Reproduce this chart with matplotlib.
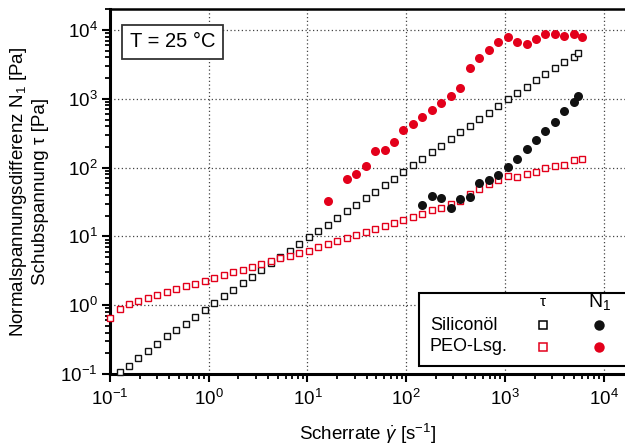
import numpy as np
import matplotlib
matplotlib.use("Agg")
import matplotlib.pyplot as plt
from matplotlib.lines import Line2D
from matplotlib.patches import Rectangle

plt.rcParams['font.family'] = ['Liberation Sans', 'DejaVu Sans']
plt.rcParams['mathtext.fontset'] = 'custom'
plt.rcParams['mathtext.rm'] = 'Liberation Sans'
plt.rcParams['mathtext.it'] = 'Liberation Sans:italic'
plt.rcParams['mathtext.bf'] = 'Liberation Sans:bold'

# shear rate grid [1/s]
shear_rate = [0.100, 0.125, 0.156, 0.194, 0.242, 0.302, 0.376, 0.469, 0.585, 0.730,
              0.910, 1.14, 1.42, 1.76, 2.20, 2.74, 3.42, 4.27, 5.32, 6.64,
              8.28, 10.3, 12.9, 16.1, 20.0, 25.0, 31.1, 38.8, 48.4, 60.4,
              75.3, 93.9, 117, 146, 182, 227, 283, 353, 441, 550,
              685, 855, 1066, 1330, 1658, 2068, 2578, 3215, 4009, 5000]

# Siliconoel: shear stress tau
sil_tau_x = shear_rate[1:] + [5520]
sil_tau = [0.106, 0.132, 0.173, 0.214, 0.273, 0.353, 0.432, 0.538, 0.673,
           0.861, 1.07, 1.35, 1.66, 2.08, 2.57, 3.25, 4.06, 4.97, 6.2,
           7.76, 9.7, 12.0, 14.8, 18.7, 23.4, 28.9, 36.2, 44.7, 55.8,
           69.0, 86.3, 108, 133, 167, 208, 258, 326, 406, 508,
           628, 778, 984, 1214, 1500, 1876, 2316, 2833, 3426, 4093, 4581]

# PEO-Lsg.: shear stress tau
peo_tau_x = shear_rate + [6050]
peo_tau = [0.658, 0.889, 1.04, 1.15, 1.28, 1.42, 1.56, 1.72, 1.88, 2.05,
           2.27, 2.48, 2.75, 3.04, 3.28, 3.63, 4.01, 4.35, 4.85, 5.19,
           5.68, 6.19, 6.93, 7.67, 8.57, 9.48, 10.4, 11.5, 12.7, 14.2,
           15.7, 17.3, 19.4, 21.4, 23.9, 26.1, 29.2, 32.4, 41.0, 49.6,
           56.8, 65.3, 76.3, 72.3, 80.0, 86.3, 98.6, 105, 110, 128, 135]

# Siliconoel: first normal stress difference N1
sil_n1_x = shear_rate[33:] + [5520]
sil_n1 = [28.6, 38.7, 36.2, 25.9, 35.3, 37.0, 59.1, 65.3, 78.9, 103,
          133, 185, 255, 340, 464, 657, 898, 1084]

# PEO-Lsg.: first normal stress difference N1
peo_n1_x = [shear_rate[23]] + shear_rate[25:] + [6050]
peo_n1 = [33.0, 68.3, 81.5, 107, 173, 178, 233, 348, 426, 543,
          687, 877, 1086, 1420, 2831, 3958, 5120, 6690, 8000, 6690,
          6190, 7320, 8660, 8660, 8260, 8660, 7910]

tick_vals = [0.1, 1, 10, 100, 1000, 10000]
tick_labels = [r'$\mathregular{10^{-1}}$', r'$\mathregular{10^{0}}$', r'$\mathregular{10^{1}}$',
               r'$\mathregular{10^{2}}$', r'$\mathregular{10^{3}}$', r'$\mathregular{10^{4}}$']

RED = '#e3001b'

fig = plt.figure(figsize=(6.25, 4.47), dpi=100)
ax = fig.add_axes([0.176, 0.1633, 0.824, 0.8166])
ax.set_xscale('log')
ax.set_yscale('log')
ax.set_xlim(0.1, 16500)
ax.set_ylim(0.1, 20200)

sq = dict(marker='s', linestyle='none', markersize=4.8, markerfacecolor='white',
          markeredgewidth=1.0, clip_on=False, zorder=3)
ci = dict(marker='o', linestyle='none', markersize=6.5, markeredgewidth=0, zorder=4)

ax.plot(sil_tau_x, sil_tau, markeredgecolor='#111111', **sq)
ax.plot(peo_tau_x, peo_tau, markeredgecolor=RED, **sq)
ax.plot(sil_n1_x, sil_n1, color='#111111', **ci)
ax.plot(peo_n1_x, peo_n1, color=RED, **ci)

# grid
ax.grid(True, which='major', linestyle=(0, (1, 2)), color='#444444', linewidth=0.9)
ax.set_axisbelow(True)

# spines
ax.spines['right'].set_visible(False)
ax.spines['left'].set_linewidth(2.2)
ax.spines['bottom'].set_linewidth(2.2)
ax.spines['top'].set_linewidth(1.8)

ax.tick_params(which='major', direction='out', length=6, width=1.5, labelsize=13.5)
ax.tick_params(axis='x', which='major', pad=5)
ax.tick_params(axis='y', which='major', pad=3)
ax.tick_params(which='minor', direction='out', length=3.5, width=1.3)
ax.tick_params(axis='both', top=False, right=False)

ax.set_xticks(tick_vals)
ax.set_xticklabels(tick_labels)
ax.set_yticks(tick_vals)
ax.set_yticklabels(tick_labels)

ax.set_xlabel(r'Scherrate $\dot{\gamma}$ [s$^{-1}$]', fontsize=13.5, labelpad=9)
ax.set_ylabel('Normalspannungsdifferenz N$_1$ [Pa]\nSchubspannung \u03c4 [Pa]',
              fontsize=13.5, labelpad=8, linespacing=1.2)

# temperature box
ax.text(0.122, 0.910, 'T = 25 \u00b0C', transform=ax.transAxes, fontsize=14.5,
        ha='center', va='center',
        bbox=dict(boxstyle='square,pad=0.38', facecolor='white', edgecolor='#333333', linewidth=1.3))

# custom legend
ax.add_patch(Rectangle((0.600, 0.022), 0.45, 0.200, transform=ax.transAxes,
                       facecolor='white', edgecolor='black', linewidth=1.5, zorder=5, clip_on=False))
ax.text(0.621, 0.134, 'Siliconöl', transform=ax.transAxes, fontsize=13, va='center', ha='left', zorder=6)
ax.text(0.621, 0.074, 'PEO-Lsg.', transform=ax.transAxes, fontsize=13, va='center', ha='left', zorder=6)
ax.text(0.841, 0.197, '\u03c4', transform=ax.transAxes, fontsize=11, va='center', ha='center', zorder=6)
ax.text(0.950, 0.197, 'N$_1$', transform=ax.transAxes, fontsize=14, va='center', ha='center', zorder=6)
ax.add_line(Line2D([0.841], [0.134], transform=ax.transAxes, marker='s', markersize=6,
                   markerfacecolor='white', markeredgecolor='black', markeredgewidth=1.1, zorder=6))
ax.add_line(Line2D([0.841], [0.074], transform=ax.transAxes, marker='s', markersize=6,
                   markerfacecolor='white', markeredgecolor=RED, markeredgewidth=1.1, zorder=6))
ax.add_line(Line2D([0.950], [0.134], transform=ax.transAxes, marker='o', markersize=7.5,
                   color='#111111', markeredgewidth=0, zorder=6))
ax.add_line(Line2D([0.950], [0.074], transform=ax.transAxes, marker='o', markersize=7.5,
                   color=RED, markeredgewidth=0, zorder=6))

fig.savefig('out.png', dpi=100)
